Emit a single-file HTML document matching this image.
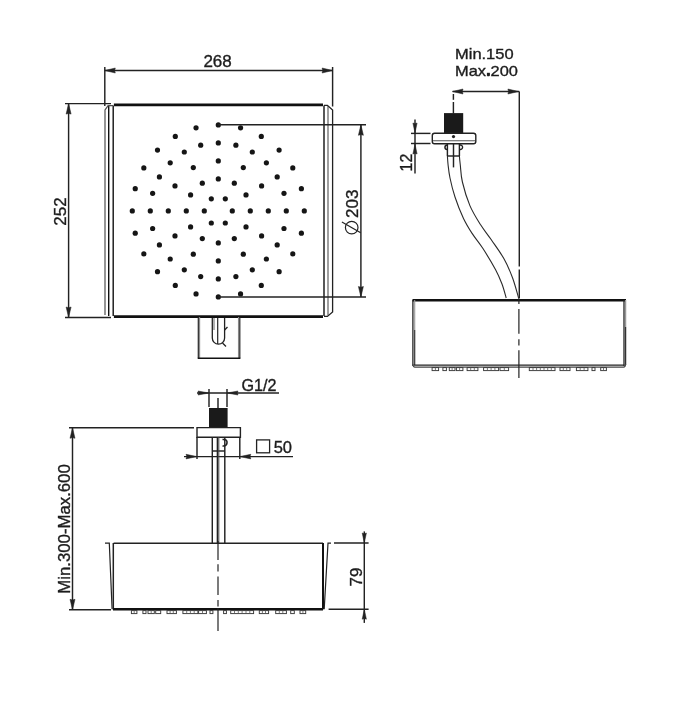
<!DOCTYPE html>
<html><head><meta charset="utf-8"><style>
html,body{margin:0;padding:0;background:#fff;}
svg{display:block;will-change:transform;}
text{font-family:"Liberation Sans",sans-serif;fill:#1c1c1c;stroke:#1c1c1c;stroke-width:0.35;}
</style></head><body>
<svg width="700" height="701" viewBox="0 0 700 701">
<rect width="700" height="701" fill="#fff"/>
<line x1="104.8" y1="67" x2="104.8" y2="106" stroke="#222" stroke-width="1.45" />
<line x1="332.6" y1="67" x2="332.6" y2="106.5" stroke="#222" stroke-width="1.45" />
<line x1="104.8" y1="70.5" x2="332.6" y2="70.5" stroke="#222" stroke-width="1.45" />
<polygon points="104.8,70.5 115.3,68.0 114.6,70.5 115.3,73.0" fill="#222" stroke="#222" stroke-width="0.5"/>
<polygon points="332.6,70.5 322.1,68.0 322.8,70.5 322.1,73.0" fill="#222" stroke="#222" stroke-width="0.5"/>
<text x="217.6" y="67.2" font-size="17" text-anchor="middle">268</text>
<line x1="65" y1="103.6" x2="111" y2="103.6" stroke="#222" stroke-width="1.45" />
<line x1="65" y1="317.5" x2="111" y2="317.5" stroke="#222" stroke-width="1.45" />
<line x1="68.6" y1="103.6" x2="68.6" y2="317.5" stroke="#222" stroke-width="1.45" />
<polygon points="68.6,103.6 66.1,114.1 68.6,113.4 71.1,114.1" fill="#222" stroke="#222" stroke-width="0.5"/>
<polygon points="68.6,317.5 66.1,307.0 68.6,307.7 71.1,307.0" fill="#222" stroke="#222" stroke-width="0.5"/>
<text x="65.6" y="211.5" font-size="17" text-anchor="middle" transform="rotate(-90 65.6 211.5)">252</text>
<line x1="113.9" y1="104.9" x2="323" y2="104.9" stroke="#111" stroke-width="2.6" />
<line x1="113.9" y1="316.6" x2="323" y2="316.6" stroke="#111" stroke-width="2.6" />
<line x1="113.2" y1="105.5" x2="113.2" y2="316" stroke="#111" stroke-width="1.4" />
<line x1="108.7" y1="105.8" x2="108.7" y2="316" stroke="#111" stroke-width="1.4" />
<path d="M105,315 L105,110 L108.1,105.6 L113,105.6" stroke="#505050" stroke-width="1.2" fill="none" />
<line x1="324" y1="105.5" x2="324" y2="316" stroke="#111" stroke-width="1.4" />
<line x1="328" y1="106" x2="328" y2="315.5" stroke="#606060" stroke-width="1.2" />
<path d="M324,105.3 L327.4,105.3 L332.6,110 L332.6,312 L327.4,316.4 L324,316.4" stroke="#222" stroke-width="1.3" fill="none" />
<circle cx="225.30" cy="198.78" r="2.6" fill="#151515"/>
<circle cx="232.30" cy="210.90" r="2.6" fill="#151515"/>
<circle cx="225.30" cy="223.02" r="2.6" fill="#151515"/>
<circle cx="211.30" cy="223.02" r="2.6" fill="#151515"/>
<circle cx="204.30" cy="210.90" r="2.6" fill="#151515"/>
<circle cx="211.30" cy="198.78" r="2.6" fill="#151515"/>
<circle cx="218.30" cy="178.90" r="2.6" fill="#151515"/>
<circle cx="234.30" cy="183.19" r="2.6" fill="#151515"/>
<circle cx="246.01" cy="194.90" r="2.6" fill="#151515"/>
<circle cx="250.30" cy="210.90" r="2.6" fill="#151515"/>
<circle cx="246.01" cy="226.90" r="2.6" fill="#151515"/>
<circle cx="234.30" cy="238.61" r="2.6" fill="#151515"/>
<circle cx="218.30" cy="242.90" r="2.6" fill="#151515"/>
<circle cx="202.30" cy="238.61" r="2.6" fill="#151515"/>
<circle cx="190.59" cy="226.90" r="2.6" fill="#151515"/>
<circle cx="186.30" cy="210.90" r="2.6" fill="#151515"/>
<circle cx="190.59" cy="194.90" r="2.6" fill="#151515"/>
<circle cx="202.30" cy="183.19" r="2.6" fill="#151515"/>
<circle cx="218.30" cy="160.90" r="2.6" fill="#151515"/>
<circle cx="243.30" cy="167.60" r="2.6" fill="#151515"/>
<circle cx="261.60" cy="185.90" r="2.6" fill="#151515"/>
<circle cx="268.30" cy="210.90" r="2.6" fill="#151515"/>
<circle cx="261.60" cy="235.90" r="2.6" fill="#151515"/>
<circle cx="243.30" cy="254.20" r="2.6" fill="#151515"/>
<circle cx="218.30" cy="260.90" r="2.6" fill="#151515"/>
<circle cx="193.30" cy="254.20" r="2.6" fill="#151515"/>
<circle cx="175.00" cy="235.90" r="2.6" fill="#151515"/>
<circle cx="168.30" cy="210.90" r="2.6" fill="#151515"/>
<circle cx="175.00" cy="185.90" r="2.6" fill="#151515"/>
<circle cx="193.30" cy="167.60" r="2.6" fill="#151515"/>
<circle cx="218.30" cy="142.90" r="2.6" fill="#151515"/>
<circle cx="235.90" cy="145.22" r="2.6" fill="#151515"/>
<circle cx="252.30" cy="152.01" r="2.6" fill="#151515"/>
<circle cx="266.38" cy="162.82" r="2.6" fill="#151515"/>
<circle cx="277.19" cy="176.90" r="2.6" fill="#151515"/>
<circle cx="283.98" cy="193.30" r="2.6" fill="#151515"/>
<circle cx="286.30" cy="210.90" r="2.6" fill="#151515"/>
<circle cx="283.98" cy="228.50" r="2.6" fill="#151515"/>
<circle cx="277.19" cy="244.90" r="2.6" fill="#151515"/>
<circle cx="266.38" cy="258.98" r="2.6" fill="#151515"/>
<circle cx="252.30" cy="269.79" r="2.6" fill="#151515"/>
<circle cx="235.90" cy="276.58" r="2.6" fill="#151515"/>
<circle cx="218.30" cy="278.90" r="2.6" fill="#151515"/>
<circle cx="200.70" cy="276.58" r="2.6" fill="#151515"/>
<circle cx="184.30" cy="269.79" r="2.6" fill="#151515"/>
<circle cx="170.22" cy="258.98" r="2.6" fill="#151515"/>
<circle cx="159.41" cy="244.90" r="2.6" fill="#151515"/>
<circle cx="152.62" cy="228.50" r="2.6" fill="#151515"/>
<circle cx="150.30" cy="210.90" r="2.6" fill="#151515"/>
<circle cx="152.62" cy="193.30" r="2.6" fill="#151515"/>
<circle cx="159.41" cy="176.90" r="2.6" fill="#151515"/>
<circle cx="170.22" cy="162.82" r="2.6" fill="#151515"/>
<circle cx="184.30" cy="152.01" r="2.6" fill="#151515"/>
<circle cx="200.70" cy="145.22" r="2.6" fill="#151515"/>
<circle cx="218.30" cy="124.90" r="2.6" fill="#151515"/>
<circle cx="240.56" cy="127.83" r="2.6" fill="#151515"/>
<circle cx="261.30" cy="136.42" r="2.6" fill="#151515"/>
<circle cx="279.11" cy="150.09" r="2.6" fill="#151515"/>
<circle cx="292.78" cy="167.90" r="2.6" fill="#151515"/>
<circle cx="301.37" cy="188.64" r="2.6" fill="#151515"/>
<circle cx="304.30" cy="210.90" r="2.6" fill="#151515"/>
<circle cx="301.37" cy="233.16" r="2.6" fill="#151515"/>
<circle cx="292.78" cy="253.90" r="2.6" fill="#151515"/>
<circle cx="279.11" cy="271.71" r="2.6" fill="#151515"/>
<circle cx="261.30" cy="285.38" r="2.6" fill="#151515"/>
<circle cx="240.56" cy="293.97" r="2.6" fill="#151515"/>
<circle cx="218.30" cy="296.90" r="2.6" fill="#151515"/>
<circle cx="196.04" cy="293.97" r="2.6" fill="#151515"/>
<circle cx="175.30" cy="285.38" r="2.6" fill="#151515"/>
<circle cx="157.49" cy="271.71" r="2.6" fill="#151515"/>
<circle cx="143.82" cy="253.90" r="2.6" fill="#151515"/>
<circle cx="135.23" cy="233.16" r="2.6" fill="#151515"/>
<circle cx="132.30" cy="210.90" r="2.6" fill="#151515"/>
<circle cx="135.23" cy="188.64" r="2.6" fill="#151515"/>
<circle cx="143.82" cy="167.90" r="2.6" fill="#151515"/>
<circle cx="157.49" cy="150.09" r="2.6" fill="#151515"/>
<circle cx="175.30" cy="136.42" r="2.6" fill="#151515"/>
<circle cx="196.04" cy="127.83" r="2.6" fill="#151515"/>
<line x1="218.3" y1="124.8" x2="366" y2="124.8" stroke="#222" stroke-width="1.45" />
<line x1="218.3" y1="297" x2="366" y2="297" stroke="#222" stroke-width="1.45" />
<line x1="360.9" y1="124.8" x2="360.9" y2="297" stroke="#222" stroke-width="1.45" />
<polygon points="360.9,124.8 358.4,135.3 360.9,134.6 363.4,135.3" fill="#222" stroke="#222" stroke-width="0.5"/>
<polygon points="360.9,297.0 358.4,286.5 360.9,287.2 363.4,286.5" fill="#222" stroke="#222" stroke-width="0.5"/>
<text x="358.1" y="203.8" font-size="17" text-anchor="middle" transform="rotate(-90 358.1 203.8)">203</text>
<circle cx="351.7" cy="227.6" r="6.3" fill="none" stroke="#222" stroke-width="1.2"/>
<line x1="341.9" y1="222" x2="360.7" y2="232.7" stroke="#222" stroke-width="1.2" />
<line x1="198.3" y1="317" x2="198.3" y2="358.5" stroke="#222" stroke-width="1.2" />
<line x1="199.6" y1="317" x2="199.6" y2="358.5" stroke="#888" stroke-width="1.1" />
<line x1="239.8" y1="317" x2="239.8" y2="358.5" stroke="#222" stroke-width="1.2" />
<line x1="238.5" y1="317" x2="238.5" y2="358.5" stroke="#888" stroke-width="1.1" />
<line x1="197.8" y1="358.3" x2="240.3" y2="358.3" stroke="#111" stroke-width="1.6" />
<path d="M212.3,318 L212.3,338 A6.15,6.15 0 0 0 224.6,338 L224.6,318" stroke="#222" stroke-width="1.3" fill="none" />
<line x1="214" y1="318" x2="214" y2="330" stroke="#666" stroke-width="1.0" />
<line x1="217.7" y1="318" x2="217.7" y2="344" stroke="#222" stroke-width="1.2" />
<path d="M224.6,330 L227.5,327 M222.5,343 L226,346.5" stroke="#222" stroke-width="1.3" fill="none" />
<text x="455" y="59.0" font-size="15" text-anchor="start" textLength="58.6" lengthAdjust="spacingAndGlyphs">Min.150</text>
<text x="455" y="75.6" font-size="15" text-anchor="start" textLength="63" lengthAdjust="spacingAndGlyphs">Max.200</text>
<rect x="486.9" y="72.8" width="3" height="3" fill="#222"/>
<line x1="452.6" y1="91.5" x2="519.3" y2="91.5" stroke="#222" stroke-width="1.45" />
<polygon points="452.5,91.5 463.0,89.0 462.3,91.5 463.0,94.0" fill="#222" stroke="#222" stroke-width="0.5"/>
<polygon points="518.4,91.5 507.9,89.0 508.6,91.5 507.9,94.0" fill="#222" stroke="#222" stroke-width="0.5"/>
<line x1="519.3" y1="91.5" x2="519.3" y2="266.5" stroke="#222" stroke-width="1.45" />
<line x1="519.3" y1="269.5" x2="519.3" y2="298" stroke="#222" stroke-width="1.45" />
<line x1="453.4" y1="94" x2="453.4" y2="99.8" stroke="#222" stroke-width="1.45" />
<line x1="453.4" y1="102" x2="453.4" y2="113.5" stroke="#222" stroke-width="1.45" />
<rect x="444" y="113.1" width="19.2" height="20" fill="#1a1a1a"/>
<path d="M434.5,133.3 L473.5,133.3 Q475.8,133.3 475.8,135.6 L475.8,141.4 Q475.8,143.7 473.5,143.7 L434.5,143.7 Q432.3,143.7 432.3,141.4 L432.3,135.6 Q432.3,133.3 434.5,133.3 Z" stroke="#222" stroke-width="1.4" fill="none" />
<line x1="433" y1="140.8" x2="475" y2="140.8" stroke="#555" stroke-width="1.1" />
<circle cx="453.50" cy="136.60" r="1.6" fill="#222"/>
<line x1="411" y1="133.4" x2="430.5" y2="133.4" stroke="#222" stroke-width="1.45" />
<line x1="411" y1="143.5" x2="430.5" y2="143.5" stroke="#222" stroke-width="1.45" />
<line x1="415" y1="119.5" x2="415" y2="173.5" stroke="#222" stroke-width="1.45" />
<polygon points="415.0,133.0 412.9,123.0 415.0,123.7 417.1,123.0" fill="#222" stroke="#222" stroke-width="0.5"/>
<polygon points="415.0,144.0 412.9,154.0 415.0,153.3 417.1,154.0" fill="#222" stroke="#222" stroke-width="0.5"/>
<text x="412.4" y="162.6" font-size="16" text-anchor="middle" transform="rotate(-90 412.4 162.6)">12</text>
<line x1="447.4" y1="143.7" x2="447.4" y2="156" stroke="#222" stroke-width="1.45" />
<line x1="459.4" y1="143.7" x2="459.4" y2="156" stroke="#222" stroke-width="1.45" />
<line x1="447.4" y1="156" x2="459.4" y2="156" stroke="#222" stroke-width="1.45" />
<line x1="453.5" y1="143.7" x2="453.5" y2="167.4" stroke="#222" stroke-width="1.45" />
<path d="M447.2,145 A2.2,2.2 0 0 0 447.2,149.5" stroke="#222" stroke-width="1.5" fill="none" />
<path d="M459.8,145 A2.3,2.3 0 1 1 459.8,149.5" stroke="#222" stroke-width="1.4" fill="none" />
<path d="M447.4,156 C447.5,157.5 447.7,161.3 448.1,165.0 C448.5,168.7 448.9,172.7 450.0,178.0 C451.1,183.3 452.8,190.3 455.0,197.0 C457.2,203.7 460.6,212.3 463.5,218.4 C466.4,224.5 468.9,228.4 472.1,233.4 C475.3,238.4 478.9,242.2 482.8,248.3 C486.7,254.4 492.4,263.8 495.6,269.7 C498.8,275.6 500.2,279.3 502.0,284.0 C503.8,288.7 505.5,295.7 506.2,298.0" stroke="#2a2a2a" stroke-width="1.1" fill="none" />
<path d="M459.4,156 C459.5,157.5 459.8,160.7 460.3,165.0 C460.8,169.3 460.8,175.2 462.4,182.0 C464.0,188.8 466.9,198.5 469.9,205.6 C472.9,212.7 477.0,219.1 480.6,224.8 C484.2,230.5 487.4,234.1 491.3,239.8 C495.2,245.5 500.5,252.6 504.1,259.0 C507.7,265.4 510.3,271.8 512.7,278.3 C515.1,284.8 517.6,294.7 518.6,298.0" stroke="#2a2a2a" stroke-width="1.1" fill="none" />
<line x1="412.5" y1="300.3" x2="626" y2="300.3" stroke="#111" stroke-width="2.6" />
<line x1="412.9" y1="300" x2="412.9" y2="366" stroke="#222" stroke-width="1.3" />
<line x1="414.7" y1="300" x2="414.7" y2="330" stroke="#999" stroke-width="1.1" />
<line x1="414.7" y1="330" x2="414.7" y2="365" stroke="#333" stroke-width="1.2" />
<line x1="624" y1="300" x2="624" y2="366" stroke="#222" stroke-width="1.3" />
<line x1="625.6" y1="300" x2="625.6" y2="327" stroke="#999" stroke-width="1.3" />
<line x1="625.6" y1="327" x2="625.6" y2="365" stroke="#333" stroke-width="1.3" />
<line x1="414" y1="365.1" x2="624.5" y2="365.1" stroke="#222" stroke-width="1.2" />
<path d="M412.9,364 Q412.9,367.1 415,367.1 L623.5,367.1 Q625.6,367.1 625.6,364" stroke="#444" stroke-width="1.1" fill="none" />
<rect x="432.1" y="367.6" width="6.5" height="3.0" fill="none" stroke="#3a3a3a" stroke-width="0.95"/>
<line x1="435.4" y1="367.6" x2="435.4" y2="370.6" stroke="#555" stroke-width="0.8" />
<rect x="442.9" y="367.6" width="3.5" height="3.0" fill="none" stroke="#3a3a3a" stroke-width="0.95"/>
<rect x="449.3" y="367.6" width="5.7" height="3.0" fill="none" stroke="#3a3a3a" stroke-width="0.95"/>
<line x1="452.1" y1="367.6" x2="452.1" y2="370.6" stroke="#555" stroke-width="0.8" />
<rect x="456.4" y="367.6" width="6.5" height="3.0" fill="none" stroke="#3a3a3a" stroke-width="0.95"/>
<line x1="459.6" y1="367.6" x2="459.6" y2="370.6" stroke="#555" stroke-width="0.8" />
<rect x="467.1" y="367.6" width="10.8" height="3.0" fill="none" stroke="#3a3a3a" stroke-width="0.95"/>
<line x1="470.7" y1="367.6" x2="470.7" y2="370.6" stroke="#555" stroke-width="0.8" />
<line x1="474.3" y1="367.6" x2="474.3" y2="370.6" stroke="#555" stroke-width="0.8" />
<rect x="483.6" y="367.6" width="15.0" height="3.0" fill="none" stroke="#3a3a3a" stroke-width="0.95"/>
<line x1="487.4" y1="367.6" x2="487.4" y2="370.6" stroke="#555" stroke-width="0.8" />
<line x1="491.1" y1="367.6" x2="491.1" y2="370.6" stroke="#555" stroke-width="0.8" />
<line x1="494.9" y1="367.6" x2="494.9" y2="370.6" stroke="#555" stroke-width="0.8" />
<rect x="500.0" y="367.6" width="8.6" height="3.0" fill="none" stroke="#3a3a3a" stroke-width="0.95"/>
<line x1="504.3" y1="367.6" x2="504.3" y2="370.6" stroke="#555" stroke-width="0.8" />
<rect x="529.3" y="367.6" width="25.7" height="3.0" fill="none" stroke="#3a3a3a" stroke-width="0.95"/>
<line x1="533.0" y1="367.6" x2="533.0" y2="370.6" stroke="#555" stroke-width="0.8" />
<line x1="536.6" y1="367.6" x2="536.6" y2="370.6" stroke="#555" stroke-width="0.8" />
<line x1="540.3" y1="367.6" x2="540.3" y2="370.6" stroke="#555" stroke-width="0.8" />
<line x1="544.0" y1="367.6" x2="544.0" y2="370.6" stroke="#555" stroke-width="0.8" />
<line x1="547.7" y1="367.6" x2="547.7" y2="370.6" stroke="#555" stroke-width="0.8" />
<line x1="551.3" y1="367.6" x2="551.3" y2="370.6" stroke="#555" stroke-width="0.8" />
<rect x="560.0" y="367.6" width="10.0" height="3.0" fill="none" stroke="#3a3a3a" stroke-width="0.95"/>
<line x1="563.3" y1="367.6" x2="563.3" y2="370.6" stroke="#555" stroke-width="0.8" />
<line x1="566.7" y1="367.6" x2="566.7" y2="370.6" stroke="#555" stroke-width="0.8" />
<rect x="576.4" y="367.6" width="11.5" height="3.0" fill="none" stroke="#3a3a3a" stroke-width="0.95"/>
<line x1="580.2" y1="367.6" x2="580.2" y2="370.6" stroke="#555" stroke-width="0.8" />
<line x1="584.1" y1="367.6" x2="584.1" y2="370.6" stroke="#555" stroke-width="0.8" />
<rect x="592.0" y="367.6" width="3.0" height="3.0" fill="none" stroke="#3a3a3a" stroke-width="0.95"/>
<rect x="600.7" y="367.6" width="5.7" height="3.0" fill="none" stroke="#3a3a3a" stroke-width="0.95"/>
<line x1="603.5" y1="367.6" x2="603.5" y2="370.6" stroke="#555" stroke-width="0.8" />
<line x1="518.9" y1="298" x2="518.9" y2="304" stroke="#222" stroke-width="1.2" />
<line x1="518.9" y1="309" x2="518.9" y2="333.8" stroke="#222" stroke-width="1.2" />
<line x1="518.9" y1="339.3" x2="518.9" y2="345.4" stroke="#222" stroke-width="1.2" />
<line x1="518.9" y1="350.2" x2="518.9" y2="378" stroke="#222" stroke-width="1.2" />
<text x="241.4" y="390.7" font-size="16" text-anchor="start" textLength="35" lengthAdjust="spacingAndGlyphs">G1/2</text>
<line x1="197" y1="393" x2="279" y2="393" stroke="#222" stroke-width="1.45" />
<polygon points="209.0,393.0 198.0,391.0 198.8,393.0 198.0,395.0" fill="#222" stroke="#222" stroke-width="0.5"/>
<polygon points="227.0,393.0 238.0,391.0 237.2,393.0 238.0,395.0" fill="#222" stroke="#222" stroke-width="0.5"/>
<line x1="209" y1="389" x2="209" y2="407" stroke="#222" stroke-width="1.45" />
<line x1="227" y1="389" x2="227" y2="407" stroke="#222" stroke-width="1.45" />
<line x1="218" y1="398" x2="218" y2="408" stroke="#222" stroke-width="1.45" />
<rect x="209" y="408" width="18.6" height="19.6" fill="#1a1a1a"/>
<path d="M197,427.6 L240.4,427.6 L240.4,437.2 L197,437.2 Z" stroke="#222" stroke-width="1.4" fill="none" />
<line x1="69" y1="427.8" x2="194" y2="427.8" stroke="#222" stroke-width="1.45" />
<line x1="69" y1="609.8" x2="111" y2="609.8" stroke="#222" stroke-width="1.45" />
<line x1="72.5" y1="427.8" x2="72.5" y2="609.8" stroke="#222" stroke-width="1.45" />
<polygon points="72.5,427.8 70.0,438.3 72.5,437.6 75.0,438.3" fill="#222" stroke="#222" stroke-width="0.5"/>
<polygon points="72.5,609.8 70.0,599.3 72.5,600.0 75.0,599.3" fill="#222" stroke="#222" stroke-width="0.5"/>
<text x="70" y="529" font-size="17" text-anchor="middle" transform="rotate(-90 70 529)" textLength="129.5" lengthAdjust="spacingAndGlyphs">Min.300-Max.600</text>
<line x1="197" y1="437" x2="197" y2="459" stroke="#222" stroke-width="1.45" />
<line x1="239.8" y1="437" x2="239.8" y2="459" stroke="#222" stroke-width="1.45" />
<line x1="184" y1="456.6" x2="293" y2="456.6" stroke="#222" stroke-width="1.45" />
<polygon points="197.0,456.6 186.0,454.3 186.8,456.6 186.0,458.9" fill="#222" stroke="#222" stroke-width="0.5"/>
<polygon points="239.8,456.6 250.8,454.3 250.0,456.6 250.8,458.9" fill="#222" stroke="#222" stroke-width="0.5"/>
<rect x="256.6" y="439.9" width="13" height="12.9" fill="none" stroke="#222" stroke-width="1.3"/>
<text x="273.7" y="452.5" font-size="16.5" text-anchor="start">50</text>
<line x1="212.3" y1="437.2" x2="212.3" y2="543" stroke="#222" stroke-width="1.45" />
<line x1="224.8" y1="437.2" x2="224.8" y2="543" stroke="#222" stroke-width="1.45" />
<line x1="212.3" y1="451" x2="224.8" y2="451" stroke="#222" stroke-width="1.45" />
<line x1="217.4" y1="437" x2="217.4" y2="543" stroke="#222" stroke-width="1.45" />
<line x1="218.8" y1="437" x2="218.8" y2="543" stroke="#444" stroke-width="1.0" />
<path d="M222.5,439.5 Q227.5,439 227,443 Q226.5,446.5 222.5,446" stroke="#222" stroke-width="1.6" fill="none" />
<line x1="113.6" y1="543.2" x2="323" y2="543.2" stroke="#222" stroke-width="1.6" />
<line x1="113.3" y1="543" x2="113.3" y2="609.3" stroke="#222" stroke-width="1.5" />
<line x1="113" y1="609.3" x2="323" y2="609.3" stroke="#111" stroke-width="2.4" />
<line x1="323" y1="543" x2="323" y2="609.3" stroke="#111" stroke-width="2" />
<path d="M105,543.2 L109.3,543.2 L112.1,609.3" stroke="#222" stroke-width="1.2" fill="none" />
<path d="M331,543.2 L328,543.2 L324.2,609.3" stroke="#222" stroke-width="1.2" fill="none" />
<rect x="131.4" y="610.6" width="5.5" height="3.0" fill="none" stroke="#3a3a3a" stroke-width="0.95"/>
<line x1="134.2" y1="610.6" x2="134.2" y2="613.6" stroke="#555" stroke-width="0.8" />
<rect x="142.9" y="610.6" width="3.1" height="3.0" fill="none" stroke="#3a3a3a" stroke-width="0.95"/>
<rect x="148.0" y="610.6" width="6.3" height="3.0" fill="none" stroke="#3a3a3a" stroke-width="0.95"/>
<line x1="151.2" y1="610.6" x2="151.2" y2="613.6" stroke="#555" stroke-width="0.8" />
<rect x="155.7" y="610.6" width="5.0" height="3.0" fill="none" stroke="#3a3a3a" stroke-width="0.95"/>
<rect x="167.0" y="610.6" width="9.4" height="3.0" fill="none" stroke="#3a3a3a" stroke-width="0.95"/>
<line x1="170.1" y1="610.6" x2="170.1" y2="613.6" stroke="#555" stroke-width="0.8" />
<line x1="173.3" y1="610.6" x2="173.3" y2="613.6" stroke="#555" stroke-width="0.8" />
<rect x="182.9" y="610.6" width="15.0" height="3.0" fill="none" stroke="#3a3a3a" stroke-width="0.95"/>
<line x1="186.7" y1="610.6" x2="186.7" y2="613.6" stroke="#555" stroke-width="0.8" />
<line x1="190.4" y1="610.6" x2="190.4" y2="613.6" stroke="#555" stroke-width="0.8" />
<line x1="194.2" y1="610.6" x2="194.2" y2="613.6" stroke="#555" stroke-width="0.8" />
<rect x="198.6" y="610.6" width="7.8" height="3.0" fill="none" stroke="#3a3a3a" stroke-width="0.95"/>
<line x1="202.5" y1="610.6" x2="202.5" y2="613.6" stroke="#555" stroke-width="0.8" />
<rect x="210.0" y="610.6" width="2.9" height="3.0" fill="none" stroke="#3a3a3a" stroke-width="0.95"/>
<rect x="223.6" y="610.6" width="2.8" height="3.0" fill="none" stroke="#3a3a3a" stroke-width="0.95"/>
<rect x="230.7" y="610.6" width="22.9" height="3.0" fill="none" stroke="#3a3a3a" stroke-width="0.95"/>
<line x1="234.5" y1="610.6" x2="234.5" y2="613.6" stroke="#555" stroke-width="0.8" />
<line x1="238.3" y1="610.6" x2="238.3" y2="613.6" stroke="#555" stroke-width="0.8" />
<line x1="242.1" y1="610.6" x2="242.1" y2="613.6" stroke="#555" stroke-width="0.8" />
<line x1="246.0" y1="610.6" x2="246.0" y2="613.6" stroke="#555" stroke-width="0.8" />
<line x1="249.8" y1="610.6" x2="249.8" y2="613.6" stroke="#555" stroke-width="0.8" />
<rect x="259.3" y="610.6" width="9.3" height="3.0" fill="none" stroke="#3a3a3a" stroke-width="0.95"/>
<line x1="262.4" y1="610.6" x2="262.4" y2="613.6" stroke="#555" stroke-width="0.8" />
<line x1="265.5" y1="610.6" x2="265.5" y2="613.6" stroke="#555" stroke-width="0.8" />
<rect x="275.7" y="610.6" width="10.7" height="3.0" fill="none" stroke="#3a3a3a" stroke-width="0.95"/>
<line x1="279.3" y1="610.6" x2="279.3" y2="613.6" stroke="#555" stroke-width="0.8" />
<line x1="282.8" y1="610.6" x2="282.8" y2="613.6" stroke="#555" stroke-width="0.8" />
<rect x="290.7" y="610.6" width="3.6" height="3.0" fill="none" stroke="#3a3a3a" stroke-width="0.95"/>
<rect x="300.0" y="610.6" width="5.7" height="3.0" fill="none" stroke="#3a3a3a" stroke-width="0.95"/>
<line x1="302.9" y1="610.6" x2="302.9" y2="613.6" stroke="#555" stroke-width="0.8" />
<line x1="218" y1="541" x2="218" y2="560" stroke="#222" stroke-width="1.2" />
<line x1="218" y1="564.3" x2="218" y2="571.4" stroke="#222" stroke-width="1.2" />
<line x1="218" y1="576.4" x2="218" y2="595" stroke="#222" stroke-width="1.2" />
<line x1="218" y1="600" x2="218" y2="606.4" stroke="#222" stroke-width="1.2" />
<line x1="218" y1="608" x2="218" y2="631" stroke="#222" stroke-width="1.2" />
<line x1="334" y1="543" x2="368.6" y2="543" stroke="#222" stroke-width="1.45" />
<line x1="328.6" y1="609.2" x2="368.6" y2="609.2" stroke="#222" stroke-width="1.45" />
<line x1="364.3" y1="531.4" x2="364.3" y2="622.9" stroke="#222" stroke-width="1.45" />
<polygon points="364.3,543.0 362.2,533.0 364.3,533.7 366.4,533.0" fill="#222" stroke="#222" stroke-width="0.5"/>
<polygon points="364.3,609.2 362.2,619.2 364.3,618.5 366.4,619.2" fill="#222" stroke="#222" stroke-width="0.5"/>
<text x="361.5" y="577" font-size="17" text-anchor="middle" transform="rotate(-90 361.5 577)">79</text>
</svg>
</body></html>
